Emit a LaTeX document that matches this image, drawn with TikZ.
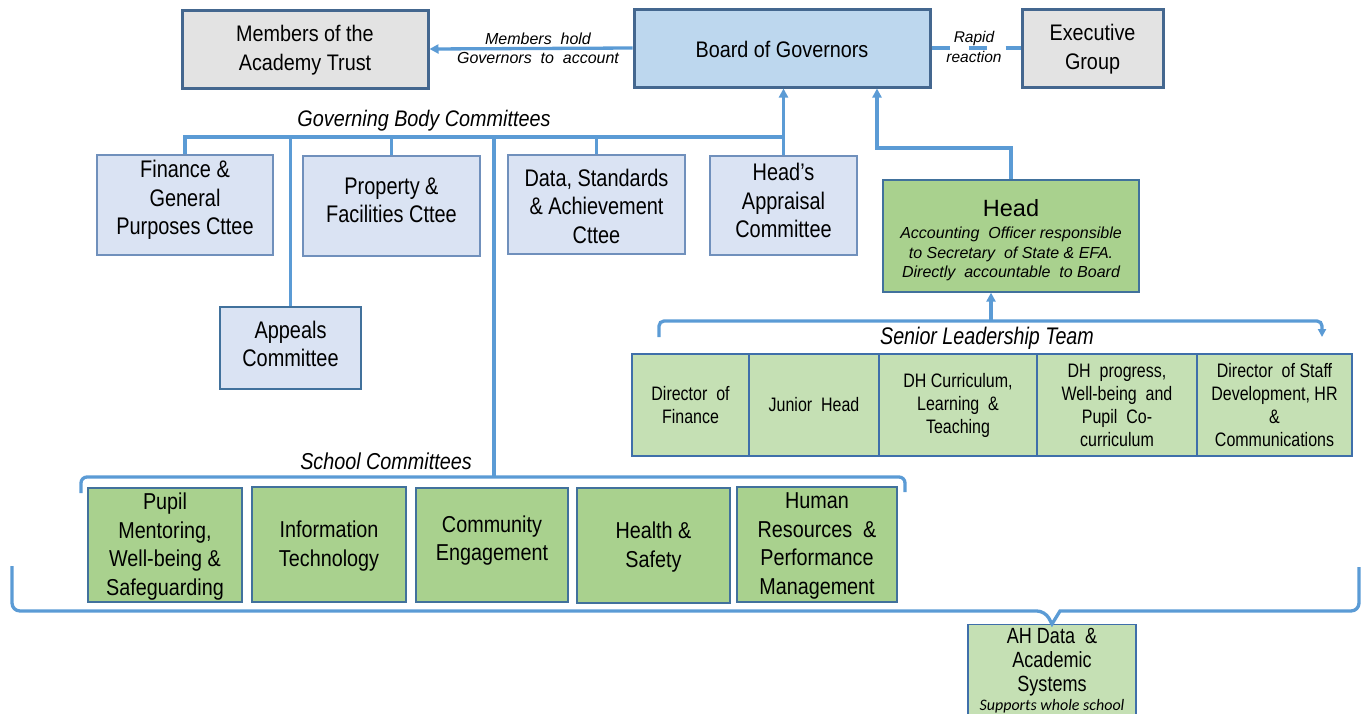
\documentclass[tikz,border=0pt]{standalone}
\usepackage{fontspec}
\setmainfont{Liberation Sans}
\newfontfamily\fA[FakeStretch=0.88]{Liberation Sans}
\newfontfamily\fB[FakeStretch=0.83]{Liberation Sans}
\newfontfamily\fC[FakeStretch=0.86]{Liberation Sans}
\newfontfamily\fD[FakeStretch=0.82]{Liberation Sans}
\newfontfamily\fCal{Carlito}
\usetikzlibrary{arrows.meta}
\definecolor{linkc}{HTML}{5B9BD5}
\definecolor{darkb}{HTML}{44678F}
\definecolor{grayf}{HTML}{E3E3E3}
\definecolor{bogf}{HTML}{BDD7EE}
\definecolor{cttef}{HTML}{DAE3F3}
\definecolor{cttel}{HTML}{7090BC}
\definecolor{greenf}{HTML}{A9D18E}
\definecolor{lgreenf}{HTML}{C5E0B4}
\definecolor{greenl}{HTML}{41719C}
\definecolor{sltl}{HTML}{3F6FAA}
\begin{document}
\begin{tikzpicture}[x=1pt,y=-1pt,
  topbox/.style={draw=darkb, line width=3pt, inner sep=0pt},
  cttebox/.style={draw=cttel, fill=cttef, line width=1.6pt, inner sep=0pt},
  schbox/.style={draw=greenl, fill=greenf, line width=1.3pt, inner sep=0pt},
  sltbox/.style={draw=sltl, fill=lgreenf, line width=1.2pt, inner sep=0pt, align=center, font=\fD\fontsize{19.5}{23}\selectfont},
  toptxt/.style={align=center, inner sep=0pt, font=\fA\fontsize{22.5}{29}\selectfont},
  cttetxt/.style={align=center, inner sep=0pt, font=\fB\fontsize{24}{28.5}\selectfont},
  schtxt/.style={align=center, inner sep=0pt, font=\fC\fontsize{23}{28.5}\selectfont},
  smalllbl/.style={align=center, inner sep=0pt, font=\itshape\fontsize{16}{19}\selectfont},
  link/.style={draw=linkc, line width=3.3pt},
  arrowed/.style={-{Triangle[length=9pt,width=9pt]}},
]
\useasboundingbox (0,0) rectangle (1367,713);
\clip (0,0) rectangle (1367,713);

% top row
\node[topbox, fill=grayf, minimum width=246, minimum height=78] (mem) at (305,49) {};
\node[toptxt] (memt) at ([yshift=-1.5pt]mem.center) {Members of the\\Academy Trust};
\node[topbox, fill=bogf, minimum width=296, minimum height=78] (bog) at (782,48) {};
\node[toptxt] (bogt) at ([yshift=-1pt]bog.center) {Board of Governors};
\node[topbox, fill=grayf, minimum width=141, minimum height=78] (exe) at (1092.5,48) {};
\node[toptxt] (exet) at ([yshift=-1.5pt]exe.center) {Executive\\Group};

\draw[link, arrowed] (bog.west) -- (mem.east);
\node[smalllbl] (mhl) at (538,48) {Members\ \ hold\\Governors\ \ to\ \ account};
\draw[link, dash pattern=on 18pt off 19pt] (bog.east) -- (exe.west);
\node[smalllbl, font=\itshape\fontsize{15.5}{20}\selectfont] (rr) at (974,47) {Rapid\\reaction};

% governing body committees
\node[inner sep=0pt, font=\fA\itshape\fontsize{22.5}{27}\selectfont] (gbc) at (424,121) {Governing Body Committees};

\node[cttebox, minimum width=176, minimum height=100] (fin) at (185,205) {};
\node[cttetxt] (fint) at ([yshift=5pt]fin.center) {Finance \&\\General\\Purposes Cttee};
\node[cttebox, minimum width=177, minimum height=100] (prop) at (391.5,206) {};
\node[cttetxt] (propt) at ([yshift=5.5pt]prop.center) {Property \&\\Facilities Cttee};
\node[cttebox, minimum width=177, minimum height=99] (data) at (596.5,204.5) {};
\node[cttetxt] (datat) at ([yshift=-1.5pt]data.center) {Data, Standards\\\& Achievement\\Cttee};
\node[cttebox, minimum width=147, minimum height=99] (happ) at (783.5,205.5) {};
\node[cttetxt] (happt) at ([yshift=5pt]happ.center) {Head’s\\Appraisal\\Committee};
\node[cttebox, draw=greenl, minimum width=141, minimum height=82] (app) at (290.5,348) {};
\node[cttetxt] (appt) at ([yshift=4pt]app.center) {Appeals\\Committee};

\coordinate (bus) at (783,137);
\draw[link] (fin.north) |- (bus);
\draw[link, arrowed] (happ.north) -- (happ.north |- bog.south);
\draw[link] (prop.north) -- (prop.north |- bus);
\draw[link] (data.north) -- (data.north |- bus);
\draw[link] (app.north) -- (app.north |- bus);
\coordinate (scj) at (494,477);
\draw[link] (scj |- bus) -- (scj);

% Head
\node[draw=greenl, fill=greenf, line width=1.3pt, minimum width=256, minimum height=112, inner sep=0pt] (head) at (1011,236) {};
\node[inner sep=0pt, font=\fontsize{23.5}{27}\selectfont] (headt) at (1011,208) {Head};
\node[smalllbl, font=\itshape\fontsize{16}{19.5}\selectfont] (headd) at (1011,254) {Accounting\ \ Officer responsible\\to Secretary\ \ of State \& EFA.\\Directly\ \ accountable\ \ to Board};
\coordinate (hj) at (877,148);
\draw[link, arrowed] (head.north) |- (hj) -- (hj |- bog.south);

% Senior leadership team
\coordinate (sltL) at (659,337);
\coordinate (sltR) at (1322,337);
\coordinate (sltM) at (991,321);
\draw[link, rounded corners=5pt, -{Triangle[length=8pt,width=8pt]}] (sltL) |- (sltM) -| (sltR);
\draw[link, arrowed] (sltM) -- (sltM |- head.south);
\node[inner sep=0pt, font=\fD\itshape\fontsize{24}{28}\selectfont] (sltt) at (987,338) {Senior Leadership Team};

\node[sltbox, minimum width=117, minimum height=102] (s1) at (690.5,405) {Director\ \ of\\Finance};
\node[sltbox, minimum width=130, minimum height=102] (s2) at (814,405) {Junior\ \ Head};
\node[sltbox, minimum width=158, minimum height=102] (s3) at (958,405) {DH Curriculum,\\Learning\ \ \&\\Teaching};
\node[sltbox, minimum width=160, minimum height=102] (s4) at (1117,405) {DH\ \ progress,\\Well-being\ \ and\\Pupil\ \ Co-\\curriculum};
\node[sltbox, minimum width=155, minimum height=102] (s5) at (1274.5,405) {Director\ \ of Staff\\Development, HR\\\&\\Communications};

% school committees
\node[inner sep=0pt, font=\fC\itshape\fontsize{23}{27}\selectfont] (sct) at (386,461) {School Committees};
\coordinate (scL) at (81,493);
\coordinate (scR) at (905,492);
\draw[link, rounded corners=6pt] (scL) |- (scj) -| (scR);

\node[schbox, minimum width=154, minimum height=114] (sc1) at (165,545) {};
\node[schtxt] (sc1t) at ([yshift=-1.5pt]sc1.center) {Pupil\\Mentoring,\\Well-being \&\\Safeguarding};
\node[schbox, minimum width=154, minimum height=115] (sc2) at (329,544.5) {};
\node[schtxt] (sc2t) at ([yshift=-1.5pt]sc2.center) {Information\\Technology};
\node[schbox, minimum width=152, minimum height=114] (sc3) at (492,545) {};
\node[schtxt] (sc3t) at ([yshift=4.5pt]sc3.center) {Community\\Engagement};
\node[schbox, minimum width=153, minimum height=115] (sc4) at (653.5,545.5) {};
\node[schtxt] (sc4t) at ([yshift=-1.5pt]sc4.center) {Health \&\\Safety};
\node[schbox, minimum width=160, minimum height=115] (sc5) at (817,544.5) {};
\node[schtxt] (sc5t) at ([yshift=-1.5pt]sc5.center) {Human\\Resources\ \ \&\\Performance\\Management};

% AH Data
\node[draw=sltl, fill=lgreenf, line width=1.2pt, minimum width=168, minimum height=110, inner sep=0pt, anchor=north] (ah) at (1052,624) {};
\node[inner sep=0pt, align=center, font=\fD\fontsize{22}{24}\selectfont] (aht) at (1052,662) {AH Data\ \ \&\\Academic\\Systems};
\node[inner sep=0pt, font=\fCal\itshape\fontsize{16}{19}\selectfont] (ahs) at (1052,706) {Supports whole school};

% big bracket
\coordinate (bbL) at (12,566);
\coordinate (bbR) at (1359,567);
\coordinate (bbA) at (1045,611);
\coordinate (bbB) at (1060,611);
\draw[link, rounded corners=8pt] (bbL) |- (bbA) [sharp corners] -- (ah.north) -- (bbB) [rounded corners=8pt] -| (bbR);
\end{tikzpicture}
\end{document}
